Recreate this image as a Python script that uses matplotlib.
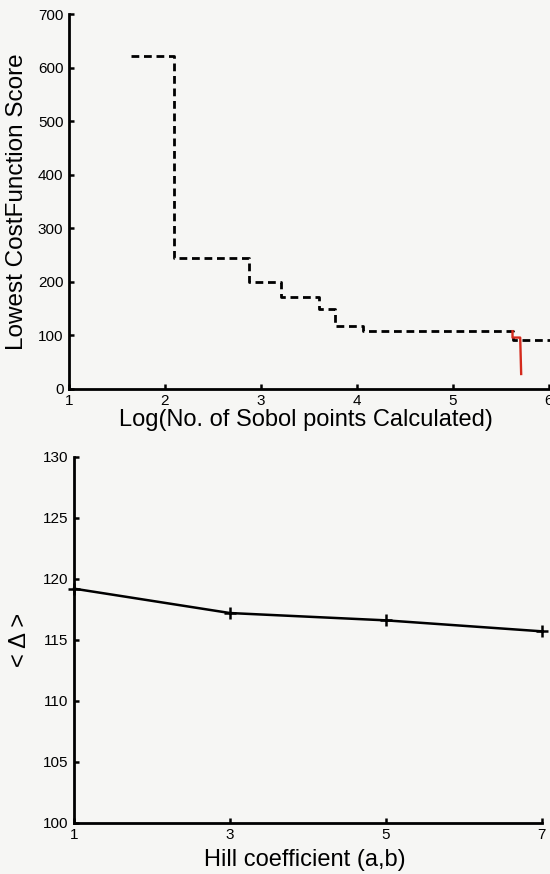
import matplotlib
matplotlib.use("Agg")
import matplotlib.pyplot as plt

plt.rcParams['font.family'] = ['Liberation Sans', 'DejaVu Sans']

# Top panel: best cost-function score vs log of Sobol points evaluated (step trace)
sobol_log = [1.65, 2.09, 2.09, 2.875, 2.875, 3.21, 3.21, 3.60, 3.60, 3.77, 3.77, 4.06, 4.06, 5.62, 5.62, 6.3]
best_score = [622, 622, 245, 245, 200, 200, 171, 171, 150, 150, 118, 118, 107.5, 107.5, 92, 92]

# Local refinement trace (red)
refine_log = [5.62, 5.62, 5.70, 5.71]
refine_score = [108, 96, 96, 28]

# Bottom panel: mean distance vs Hill coefficient
hill = [1, 3, 5, 7]
delta = [119.2, 117.2, 116.6, 115.7]

W, H = 550, 874
fig = plt.figure(figsize=(W / 100, H / 100), dpi=100)
bg = '#f6f6f4'
fig.patch.set_facecolor(bg)


def style(ax):
    ax.set_facecolor('none')
    for s in ('top', 'right'):
        ax.spines[s].set_visible(False)
    for s in ('left', 'bottom'):
        ax.spines[s].set_linewidth(2.0)
        ax.spines[s].set_color('black')
    ax.tick_params(direction='in', length=3.5, width=1.8, labelsize=11, colors='black')
    ax.tick_params(axis='x', pad=3.5)
    ax.tick_params(axis='y', pad=4)


# ---- top panel ----
x0, x1 = 1.0, 6.2
px_per_unit = 96.0
left_px, bottom_px, top_px = 69, 389, 14
ax1 = fig.add_axes([left_px / W, 1 - bottom_px / H,
                    (x1 - x0) * px_per_unit / W, (bottom_px - top_px) / H])
style(ax1)
ax1.plot(sobol_log, best_score, color='black', lw=2.0, linestyle=(0, (2.8, 1.7)), clip_on=False)
ax1.plot(refine_log, refine_score, color='#d42a1c', lw=1.7)
ax1.set_xlim(x0, x1)
ax1.set_ylim(0, 700)
ax1.set_xticks([1, 2, 3, 4, 5, 6])
ax1.set_yticks(range(0, 701, 100))
fig.text(17 / W, 1 - 202 / H, 'Lowest CostFunction Score', rotation=90,
         ha='center', va='center', fontsize=17.5)
fig.text(306 / W, 1 - 426 / H, 'Log(No. of Sobol points Calculated)',
         ha='center', va='baseline', fontsize=17)

# ---- bottom panel ----
l2, r2, b2, t2 = 74, 541.7, 822.7, 457
ax2 = fig.add_axes([l2 / W, 1 - b2 / H, (r2 - l2) / W, (b2 - t2) / H])
style(ax2)
ax2.plot(hill, delta, color='black', lw=1.8, marker='+', markersize=9,
         markeredgewidth=1.8, clip_on=False)
ax2.set_xlim(1, 7)
ax2.set_ylim(100, 130)
ax2.set_xticks([1, 3, 5, 7])
ax2.set_yticks(range(100, 131, 5))
fig.text(20 / W, 1 - 640 / H, '< \u0394 >', rotation=90,
         ha='center', va='center', fontsize=17)
fig.text(305 / W, 1 - 866 / H, 'Hill coefficient (a,b)',
         ha='center', va='baseline', fontsize=17)

fig.savefig('out.png', dpi=100, facecolor=bg)
